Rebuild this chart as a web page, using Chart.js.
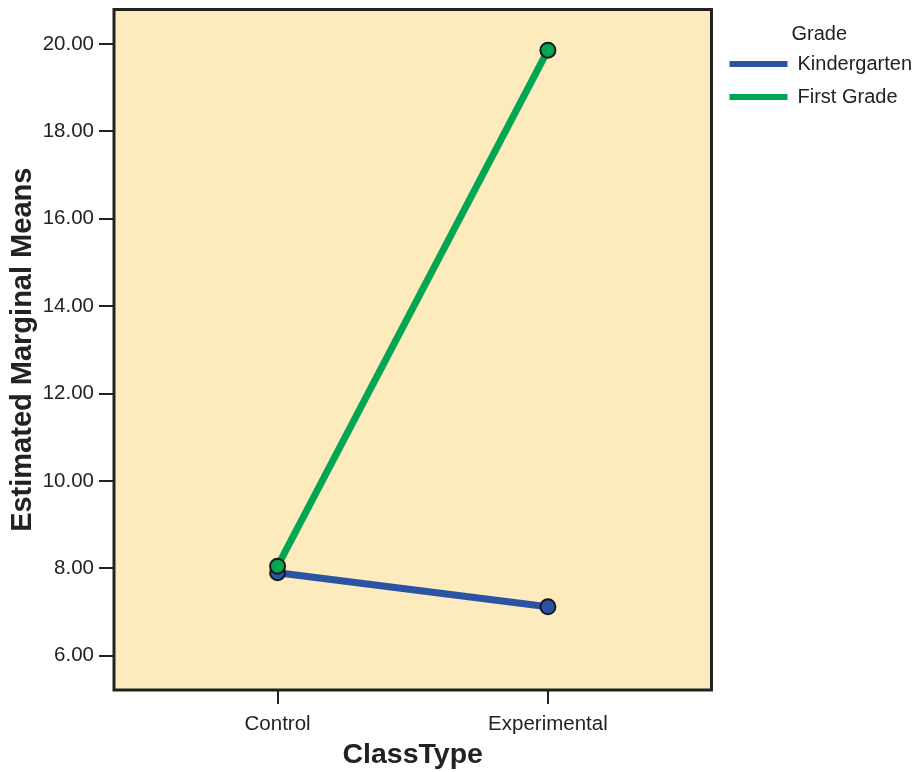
<!DOCTYPE html>
<html>
<head>
<meta charset="utf-8">
<script src="https://cdn.jsdelivr.net/npm/chart.js@4/dist/chart.umd.min.js"></script>
<style>
html,body{margin:0;padding:0;background:#fff;}
#wrap{width:918px;height:772px;position:relative;}
</style>
</head>
<body>
<div id="wrap"><canvas id="c" width="918" height="772"></canvas></div>
<script>
// ---- data ----
const categories = ["Control", "Experimental"];
const seriesNames = ["Kindergarten", "First Grade"];
const kindergarten = [7.90, 7.12];
const firstGrade = [8.05, 19.86];
const yTicks = [6, 8, 10, 12, 14, 16, 18, 20];
const legendTitle = "Grade";
const xTitle = "ClassType";
const yTitle = "Estimated Marginal Means";

const FONT = "'Liberation Sans', Arial, Helvetica, sans-serif";
const colors = ["#2B52A3", "#00A651"];
const plotBg = "#FEEBBD";

const toPts = arr => arr.map((v, i) => ({x: i, y: v}));

const boxPlugin = {
  id: 'box',
  afterLayout(chart) {
    if (chart.legend) { chart.legend.left += 5; chart.legend.right += 5; }
  },
  beforeDraw(chart) {
    const a = chart.chartArea, ctx = chart.ctx;
    ctx.save();
    ctx.fillStyle = plotBg;
    ctx.fillRect(a.left, a.top, a.right - a.left, a.bottom - a.top);
    ctx.restore();
  },
  beforeDatasetsDraw(chart) {
    const a = chart.chartArea, ctx = chart.ctx;
    ctx.save();
    ctx.strokeStyle = "#222";
    ctx.lineWidth = 3;
    ctx.strokeRect(a.left, a.top, a.right - a.left, a.bottom - a.top);
    ctx.restore();
  }
};

new Chart(document.getElementById('c'), {
  type: 'line',
  data: {
    datasets: [
      {label: seriesNames[0], data: toPts(kindergarten), borderColor: colors[0], backgroundColor: colors[0],
       pointBackgroundColor: colors[0], pointBorderColor: "#1a1a1a", order: 1},
      {label: seriesNames[1], data: toPts(firstGrade), borderColor: colors[1], backgroundColor: colors[1],
       pointBackgroundColor: colors[1], pointBorderColor: "#1a1a1a", order: 0}
    ]
  },
  options: {
    responsive: false,
    animation: false,
    devicePixelRatio: 1,
    layout: {padding: {top: 8, left: 0, right: 1, bottom: 0}},
    elements: {
      line: {borderWidth: 7, tension: 0},
      point: {radius: 7.5, borderWidth: 2, hoverRadius: 7.5, hoverBorderWidth: 2}
    },
    plugins: {
      tooltip: {enabled: false},
      legend: {
        position: 'right',
        align: 'start',
        maxWidth: 206,
        title: {display: true, text: legendTitle, color: "#222", font: {family: FONT, size: 20, lineHeight: 1}, padding: {top: 16, bottom: -3}},
        labels: {
          color: "#222",
          font: {family: FONT, size: 20},
          boxWidth: 58,
          boxHeight: 6,
          padding: 13,
          generateLabels(chart) {
            return chart.data.datasets.map((d, i) => ({
              text: d.label, fillStyle: colors[i], strokeStyle: colors[i], lineWidth: 0, datasetIndex: i, hidden: false
            }));
          }
        }
      }
    },
    scales: {
      x: {
        type: 'linear',
        min: -0.605,
        max: 1.605,
        afterBuildTicks(scale) { scale.ticks = categories.map((c, i) => ({value: i})); },
        afterFit(scale) { scale.height = 82; scale.paddingLeft = 0; scale.paddingRight = 0; },
        ticks: {
          color: "#222",
          font: {family: FONT, size: 20.5},
          padding: 8,
          maxRotation: 0,
          callback: v => categories[v] ?? ''
        },
        grid: {display: true, drawOnChartArea: false, drawTicks: true, tickLength: 14, color: "#222", lineWidth: 2},
        border: {display: false},
        title: {display: true, text: xTitle, color: "#222", font: {family: FONT, size: 28.5, weight: 'bold'}, padding: {top: 4, bottom: 0}}
      },
      y: {
        type: 'linear',
        min: 5.217,
        max: 20.79,
        afterBuildTicks(scale) { scale.ticks = yTicks.map(v => ({value: v})); },
        afterFit(scale) { scale.width = 114; scale.paddingTop = 0; scale.paddingBottom = 0; },
        ticks: {
          color: "#222",
          font: {family: FONT, size: 20.5},
          padding: 5,
          callback: v => Number(v).toFixed(2)
        },
        grid: {display: true, drawOnChartArea: false, drawTicks: true, tickLength: 15, color: "#222", lineWidth: 2},
        border: {display: false},
        title: {display: true, text: yTitle, color: "#222", font: {family: FONT, size: 29, weight: 'bold'}, padding: {top: 6, bottom: 0}}
      }
    }
  },
  plugins: [boxPlugin]
});
</script>
</body>
</html>
